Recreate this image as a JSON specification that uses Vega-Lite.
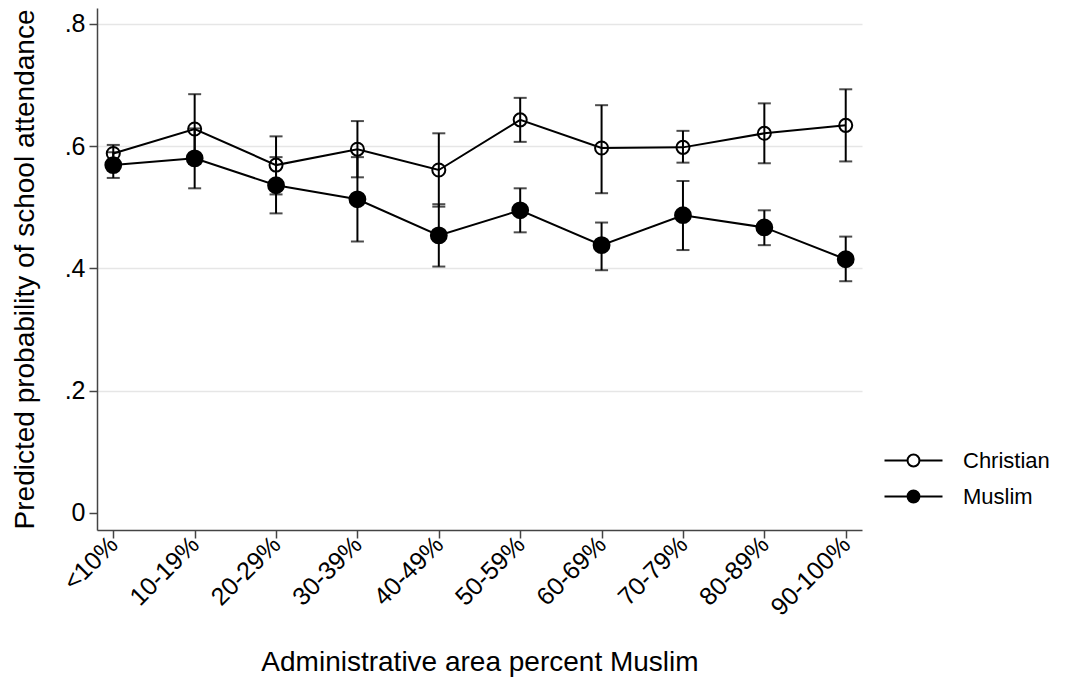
{
  "$schema": "https://vega.github.io/schema/vega-lite/v6.json",
  "autosize": "none",
  "padding": {"left": 97, "top": 8, "right": 208, "bottom": 153},
  "width": 765,
  "height": 522,
  "background": "white",
  "config": {
    "view": {"stroke": null},
    "font": "Liberation Sans",
    "axis": {"domainColor": "#444", "tickColor": "#444", "domainWidth": 1.5, "tickWidth": 1.5, "tickSize": 8, "labelColor": "black", "titleColor": "black", "labelFont": "Liberation Sans", "titleFont": "Liberation Sans", "titleFontWeight": "normal", "labelFontSize": 25, "titleFontSize": 28},
    "axisY": {"titlePadding": 25, "labelPadding": 4},
    "axisX": {"titlePadding": 29, "labelPadding": 2}
  },
  "data": {"values": [
    {"cat": "<10%", "group": "Christian", "p": 0.588, "lo": 0.574, "hi": 0.602},
    {"cat": "10-19%", "group": "Christian", "p": 0.628, "lo": 0.571, "hi": 0.685},
    {"cat": "20-29%", "group": "Christian", "p": 0.569, "lo": 0.521, "hi": 0.616},
    {"cat": "30-39%", "group": "Christian", "p": 0.595, "lo": 0.549, "hi": 0.641},
    {"cat": "40-49%", "group": "Christian", "p": 0.561, "lo": 0.501, "hi": 0.621},
    {"cat": "50-59%", "group": "Christian", "p": 0.643, "lo": 0.607, "hi": 0.679},
    {"cat": "60-69%", "group": "Christian", "p": 0.597, "lo": 0.523, "hi": 0.667},
    {"cat": "70-79%", "group": "Christian", "p": 0.598, "lo": 0.573, "hi": 0.625},
    {"cat": "80-89%", "group": "Christian", "p": 0.621, "lo": 0.572, "hi": 0.670},
    {"cat": "90-100%", "group": "Christian", "p": 0.634, "lo": 0.575, "hi": 0.693},
    {"cat": "<10%", "group": "Muslim", "p": 0.569, "lo": 0.548, "hi": 0.590},
    {"cat": "10-19%", "group": "Muslim", "p": 0.580, "lo": 0.531, "hi": 0.629},
    {"cat": "20-29%", "group": "Muslim", "p": 0.536, "lo": 0.490, "hi": 0.582},
    {"cat": "30-39%", "group": "Muslim", "p": 0.513, "lo": 0.444, "hi": 0.582},
    {"cat": "40-49%", "group": "Muslim", "p": 0.454, "lo": 0.403, "hi": 0.505},
    {"cat": "50-59%", "group": "Muslim", "p": 0.495, "lo": 0.459, "hi": 0.531},
    {"cat": "60-69%", "group": "Muslim", "p": 0.438, "lo": 0.397, "hi": 0.475},
    {"cat": "70-79%", "group": "Muslim", "p": 0.487, "lo": 0.430, "hi": 0.543},
    {"cat": "80-89%", "group": "Muslim", "p": 0.467, "lo": 0.438, "hi": 0.495},
    {"cat": "90-100%", "group": "Muslim", "p": 0.415, "lo": 0.379, "hi": 0.452}
  ]},
  "encoding": {
    "x": {
      "field": "cat", "type": "ordinal",
      "sort": ["<10%", "10-19%", "20-29%", "30-39%", "40-49%", "50-59%", "60-69%", "70-79%", "80-89%", "90-100%"],
      "scale": {"type": "point", "padding": 0.2},
      "axis": {"title": "Administrative area percent Muslim", "labelAngle": -45, "labelAlign": "right", "labelBaseline": "middle", "grid": false}
    }
  },
  "layer": [
    {
      "mark": {"type": "rule", "color": "black", "strokeWidth": 2},
      "encoding": {
        "y": {"field": "lo", "type": "quantitative", "scale": {"domain": [-0.028, 0.826], "nice": false, "zero": false},
          "axis": {"title": "Predicted probability of school attendance", "values": [0, 0.2, 0.4, 0.6, 0.8],
            "labelExpr": "datum.value == 0 ? '0' : replace(format(datum.value, '.1f'), '0.', '.')",
            "grid": true, "gridColor": {"condition": {"test": "datum.value == 0", "value": "transparent"}, "value": "#e6e6e6"}, "gridWidth": 1.5}},
        "y2": {"field": "hi"}
      }
    },
    {
      "mark": {"type": "tick", "color": "black", "thickness": 2, "size": 13},
      "encoding": {"y": {"field": "lo", "type": "quantitative"}}
    },
    {
      "mark": {"type": "tick", "color": "black", "thickness": 2, "size": 13},
      "encoding": {"y": {"field": "hi", "type": "quantitative"}}
    },
    {
      "mark": {"type": "line", "color": "black", "strokeWidth": 2},
      "encoding": {"y": {"field": "p", "type": "quantitative"}, "detail": {"field": "group"}}
    },
    {
      "mark": {"type": "point", "shape": "circle", "opacity": 1, "strokeWidth": 2, "stroke": "black"},
      "encoding": {
        "y": {"field": "p", "type": "quantitative"},
        "fill": {"field": "group", "type": "nominal", "scale": {"domain": ["Christian", "Muslim"], "range": ["transparent", "black"]},
          "legend": {"title": null, "orient": "none", "legendX": 801, "legendY": 437, "padding": 0,
            "symbolType": "M-2,0L-0.41,0M0.41,0L2,0M-0.41,0A0.41,0.41 0 1,1 0.41,0A0.41,0.41 0 1,1 -0.41,0Z",
            "symbolSize": 841, "symbolStrokeColor": "black", "symbolStrokeWidth": 2, "labelFontSize": 22, "labelOffset": 34, "rowPadding": 9, "labelFont": "Liberation Sans", "labelColor": "black"}},
        "size": {"condition": {"test": "datum.group == 'Christian'", "value": 170}, "value": 250}
      }
    }
  ]
}
